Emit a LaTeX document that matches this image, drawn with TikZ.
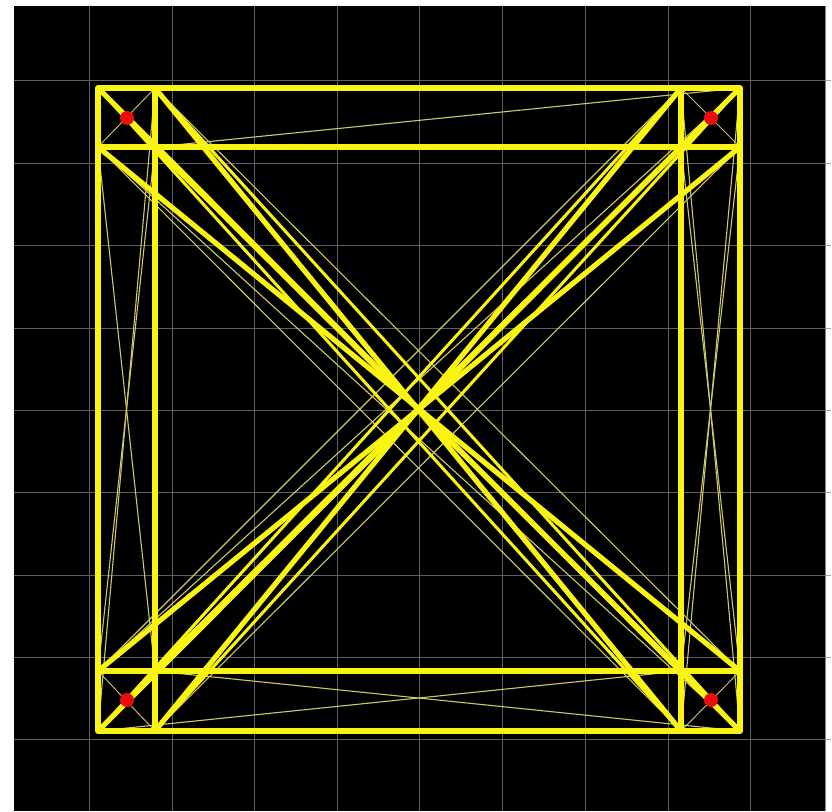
\documentclass[tikz,border=0pt]{standalone}
\definecolor{ylw}{RGB}{250,244,18}
\definecolor{thinc}{RGB}{205,200,110}
\definecolor{gridc}{RGB}{95,95,95}
\definecolor{reddot}{RGB}{235,12,12}
\begin{document}
\begin{tikzpicture}[x=1pt,y=-1pt,
  thk/.style={draw=ylw,line width=5.2pt,line cap=round},
  mid/.style={draw=ylw,line width=3pt,line cap=round},
  thn/.style={draw=thinc,line width=1.1pt},
  crossx/.style={draw=thinc!80!gray,line width=1pt},
  gridl/.style={draw=gridc,line width=0.8pt},
  rdot/.style={circle,fill=reddot,draw=none,minimum size=14pt,inner sep=0pt}]
\useasboundingbox (0,0) rectangle (832,811);
\fill[white] (0,0) rectangle (832,811);
\fill[black] (14,6) rectangle (825,811);
% grid
\foreach \g in {89,172,254,337,419,502,585,668,750}{
  \draw[gridl] (\g,6) -- (\g,811);}
\foreach \g in {80,163,245,328,410,492,575,657,739}{
  \draw[gridl] (14,\g) -- (825,\g);
  \draw[draw=gray!70,line width=0.8pt] (825,\g) -- (831,\g);}
\draw[draw=gray,line width=1pt] (825.5,6) -- (825.5,811);
% nodes
\foreach \i/\x in {1/98,2/155,3/681,4/740}{
  \foreach \j/\y in {1/88,2/147,3/671,4/731}{
    \coordinate (n\i\j) at (\x,\y);}}
% thin cluster crosses
\foreach \a/\b in {21/12,31/42,13/24,34/43}{
  \draw[crossx] (n\a) -- (n\b);}
% thin offset diagonals
\foreach \a/\b in {21/43,12/34,31/13,42/24,12/44,13/41}{
  \draw[thn] (n\a) -- (n\b);}
% thin band lines
\foreach \a/\b in {22/41,14/33,23/44,12/23,22/13,21/14,32/43,42/33,41/34,31/44}{
  \draw[thn] (n\a) -- (n\b);}
% medium diagonals
\foreach \a/\b in {21/44,11/34,31/14,41/24}{
  \draw[mid] (n\a) -- (n\b);}
% thick rows and columns
\foreach \a/\b in {11/41,12/42,13/43,14/44,11/14,21/24,31/34,41/44}{
  \draw[thk] (n\a) -- (n\b);}
% thick diagonals through centre
\foreach \a/\b in {11/44,21/34,12/43,22/33,41/14,31/24,42/13,32/23}{
  \draw[thk] (n\a) -- (n\b);}
% red dots
\node[rdot] (r1) at (127,118) {};
\node[rdot] (r2) at (711,118) {};
\node[rdot] (r3) at (127,700) {};
\node[rdot] (r4) at (711,700) {};
\end{tikzpicture}
\end{document}
